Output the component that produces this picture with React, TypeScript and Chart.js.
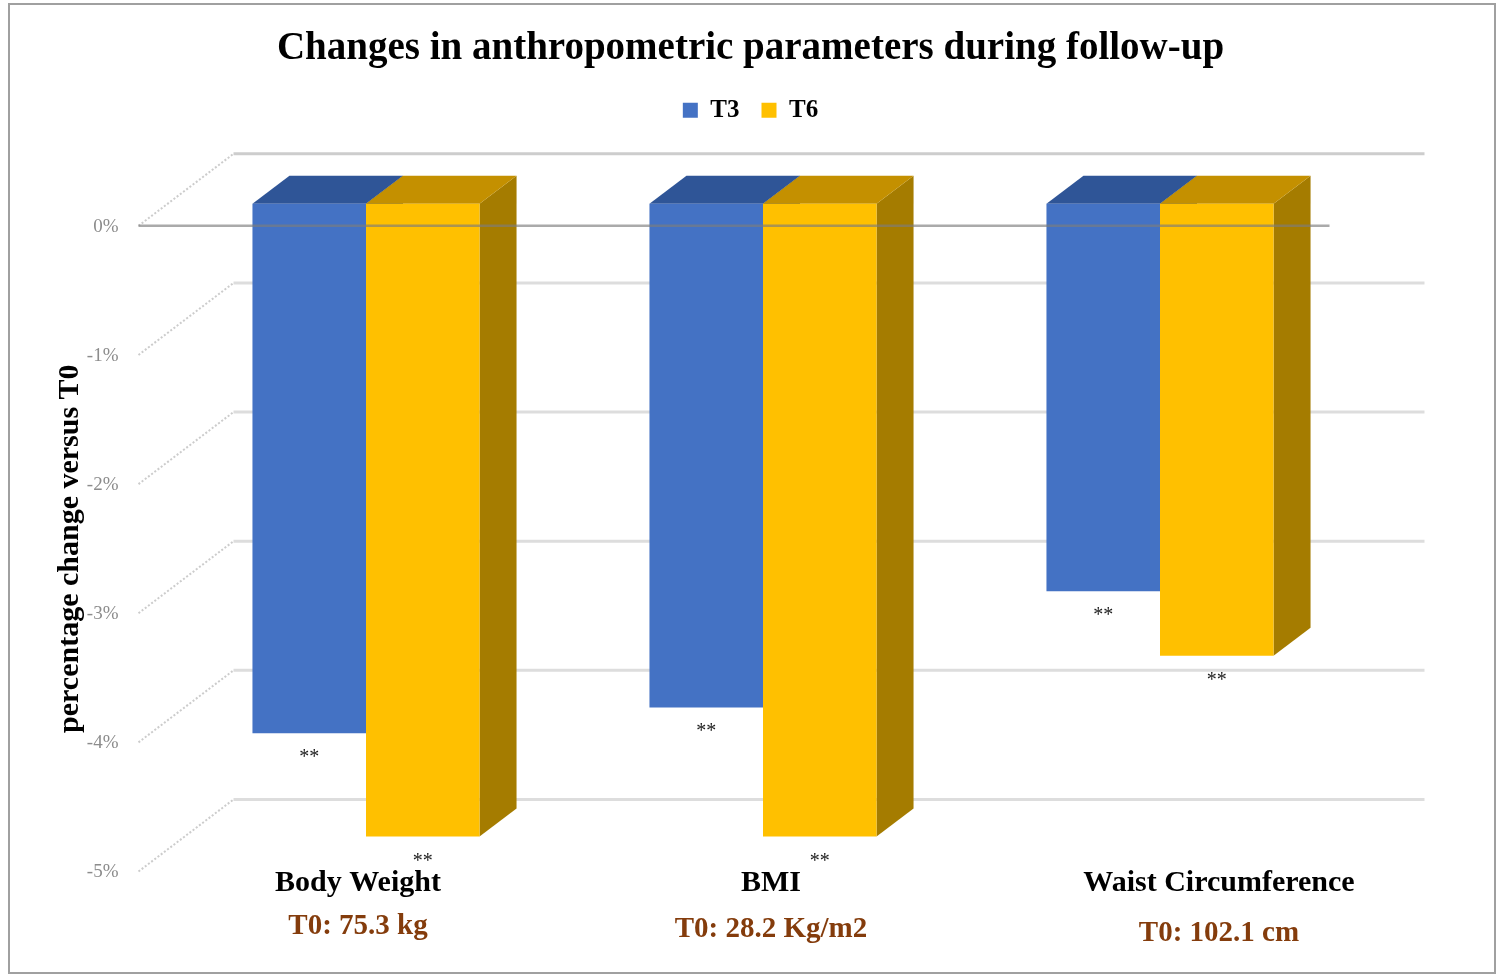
import React, { useEffect, useRef } from "react";
import { Chart, registerables } from "chart.js";

Chart.register(...registerables);

// ---- data ----
const categories = ["Body Weight", "BMI", "Waist Circumference"];
const baselineLabels = ["T0: 75.3 kg", "T0: 28.2 Kg/m2", "T0: 102.1 cm"];
const seriesNames = ["T3", "T6"];
const t3Values = [-4.1, -3.9, -3.0];
const t6Values = [-4.9, -4.9, -3.5];
const t3Marks = ["**", "**", "**"];
const t6Marks = ["**", "**", "**"];
const yTicks = [0, -1, -2, -3, -4, -5];
const chartTitle = "Changes in anthropometric parameters during follow-up";
const yAxisTitle = "percentage change versus T0";

// ---- styles / layout ----
const SERIF = '"Liberation Serif", "Times New Roman", serif';
const SERIES_STYLE = [
  { front: "#4472C4", top: "#2F5597", side: "#2B4E8C" },
  { front: "#FFC000", top: "#C49000", side: "#A57C00" },
];
const FRONT = { dx: -29, dy: 22 }; // bar plane -> front plane
const BACK = { dx: 66, dy: -50 }; // bar plane -> back wall
const BAR_D = { dx: 37, dy: -28 }; // bar depth
// label placement tweaks (category label boxes are placed freely in the source)
const LABEL_DX = [-8, 8, 59];
const BASELINE_DY = [0, 3, 7];

const marks = [t3Marks, t6Marks];

const threeDPlugin = {
  id: "threeD",
  beforeDraw(chart: any) {
    const { ctx, width, height } = chart;
    ctx.save();
    ctx.fillStyle = "#ffffff";
    ctx.fillRect(0, 0, width, height);
    ctx.restore();
  },
  beforeDatasetsDraw(chart: any) {
    const { ctx, chartArea: ca, scales } = chart;
    const y = scales.y;
    ctx.save();
    yTicks.forEach((v) => {
      const yb = y.getPixelForValue(v);
      const fx = ca.left + FRONT.dx;
      const fy = yb + FRONT.dy;
      const bx = ca.left + BACK.dx;
      const by = yb + BACK.dy;
      // back wall line
      ctx.setLineDash([]);
      ctx.strokeStyle = v === 0 ? "#cdcdcd" : "#dddddd";
      ctx.lineWidth = 3;
      ctx.beginPath();
      ctx.moveTo(bx, by);
      ctx.lineTo(ca.right + BACK.dx, by);
      ctx.stroke();
      // side wall diagonal
      ctx.setLineDash([2, 2]);
      ctx.strokeStyle = "#cccccc";
      ctx.lineWidth = 2;
      ctx.beginPath();
      ctx.moveTo(fx, fy);
      ctx.lineTo(bx, by);
      ctx.stroke();
      ctx.setLineDash([]);
      // tick label
      ctx.fillStyle = "#8c8c8c";
      ctx.font = `19px ${SERIF}`;
      ctx.textAlign = "right";
      ctx.textBaseline = "middle";
      ctx.fillText(`${v}%`, fx - 20, fy + 1);
    });

    // bar top and side faces
    chart.data.datasets.forEach((_ds: any, di: number) => {
      const meta = chart.getDatasetMeta(di);
      const st = SERIES_STYLE[di];
      meta.data.forEach((bar: any) => {
        const { x, y: yv, base, width } = bar.getProps(["x", "y", "base", "width"], true);
        const l = x - width / 2;
        const r = x + width / 2;
        const top = Math.min(yv, base);
        const bot = Math.max(yv, base);
        // side
        ctx.fillStyle = st.side;
        ctx.beginPath();
        ctx.moveTo(r, top);
        ctx.lineTo(r + BAR_D.dx, top + BAR_D.dy);
        ctx.lineTo(r + BAR_D.dx, bot + BAR_D.dy);
        ctx.lineTo(r, bot);
        ctx.closePath();
        ctx.fill();
        // top
        ctx.fillStyle = st.top;
        ctx.beginPath();
        ctx.moveTo(l, top);
        ctx.lineTo(r, top);
        ctx.lineTo(r + BAR_D.dx, top + BAR_D.dy);
        ctx.lineTo(l + BAR_D.dx, top + BAR_D.dy);
        ctx.closePath();
        ctx.fill();
      });
    });
    ctx.restore();
  },
  afterDatasetsDraw(chart: any) {
    const { ctx, chartArea: ca, scales } = chart;
    const y = scales.y;
    const x = scales.x;
    ctx.save();
    // front 0% line
    const y0 = y.getPixelForValue(0) + FRONT.dy;
    ctx.strokeStyle = "rgba(125,125,125,0.65)";
    ctx.lineWidth = 2.5;
    ctx.beginPath();
    ctx.moveTo(ca.left + FRONT.dx, y0);
    ctx.lineTo(ca.right + FRONT.dx, y0);
    ctx.stroke();

    // significance marks
    ctx.fillStyle = "#222222";
    ctx.font = `20px ${SERIF}`;
    ctx.textAlign = "center";
    ctx.textBaseline = "alphabetic";
    chart.data.datasets.forEach((_ds: any, di: number) => {
      const meta = chart.getDatasetMeta(di);
      meta.data.forEach((bar: any, i: number) => {
        const { x: bx, y: yv, base } = bar.getProps(["x", "y", "base"], true);
        const bot = Math.max(yv, base);
        ctx.fillText(marks[di][i], bx, bot + 30);
      });
    });

    // category labels
    categories.forEach((c, i) => {
      const cx = x.getPixelForValue(i) + LABEL_DX[i];
      ctx.textAlign = "center";
      ctx.textBaseline = "middle";
      ctx.fillStyle = "#000000";
      ctx.font = `bold 30px ${SERIF}`;
      ctx.fillText(c, cx, ca.bottom + 34);
      ctx.fillStyle = "#843C0C";
      ctx.font = `bold 29px ${SERIF}`;
      ctx.fillText(baselineLabels[i], cx, ca.bottom + 77 + BASELINE_DY[i]);
    });

    // y axis title
    const yc = (y.getPixelForValue(0) + y.getPixelForValue(-5)) / 2 + FRONT.dy;
    ctx.translate(70, yc);
    ctx.rotate(-Math.PI / 2);
    ctx.fillStyle = "#000000";
    ctx.font = `bold 30px ${SERIF}`;
    ctx.textAlign = "center";
    ctx.textBaseline = "middle";
    ctx.fillText(yAxisTitle, 0, 0);
    ctx.restore();
  },
  afterDraw(chart: any) {
    const { ctx } = chart;
    ctx.save();
    ctx.strokeStyle = "#a0a0a0";
    ctx.lineWidth = 2;
    ctx.strokeRect(9, 4, 1486, 969);
    ctx.restore();
  },
};

export default function App() {
  const ref = useRef<HTMLCanvasElement | null>(null);

  useEffect(() => {
    document.body.style.margin = "0";
    const canvas = ref.current;
    if (!canvas) return;
    const chart = new Chart(canvas, {
      type: "bar",
      data: {
        labels: categories,
        datasets: [
          {
            label: seriesNames[0],
            data: t3Values,
            backgroundColor: SERIES_STYLE[0].front,
            borderWidth: 0,
          },
          {
            label: seriesNames[1],
            data: t6Values,
            backgroundColor: SERIES_STYLE[1].front,
            borderWidth: 0,
          },
        ],
      },
      options: {
        responsive: false,
        animation: false,
        devicePixelRatio: 1,
        layout: { padding: { top: 0, left: 142.5, right: 142.5, bottom: 128.5 } },
        datasets: { bar: { categoryPercentage: 0.572, barPercentage: 1.0 } },
        scales: {
          x: { type: "category", display: false, offset: true, grid: { display: false } },
          y: {
            display: true,
            min: -5,
            max: 0.55,
            grid: { display: false },
            border: { display: false },
            ticks: { display: false },
            afterFit: (scale: any) => {
              scale.width = 25;
            },
          },
        },
        plugins: {
          tooltip: { enabled: false },
          title: {
            display: true,
            text: chartTitle,
            color: "#000000",
            font: { family: SERIF, size: 39, weight: "bold" },
            padding: { top: 26, bottom: 3 },
          },
          legend: {
            display: true,
            position: "top",
            labels: {
              color: "#000000",
              boxWidth: 15,
              boxHeight: 15,
              padding: 22,
              font: { family: SERIF, size: 25, weight: "bold" },
            },
          },
        },
      },
      plugins: [threeDPlugin],
    });
    return () => chart.destroy();
  }, []);

  return <canvas ref={ref} width={1501} height={978} style={{ display: "block", width: 1501, height: 978 }} />;
}
